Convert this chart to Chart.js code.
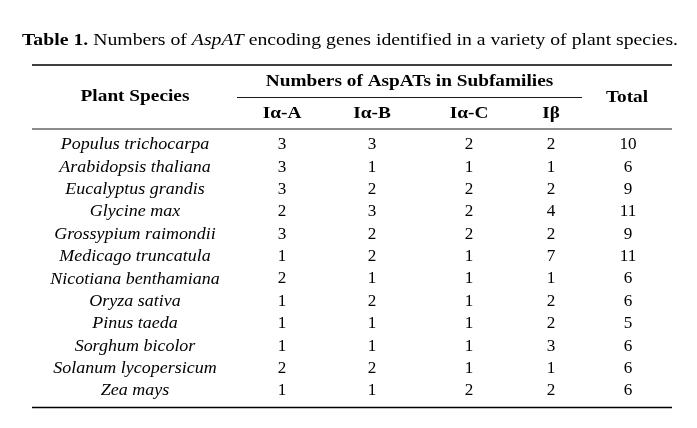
<!DOCTYPE html>
<html>
<head>
<meta charset="utf-8">
<script src="https://cdn.jsdelivr.net/npm/chart.js@4"></script>
<style>
  html, body { margin: 0; padding: 0; background: #ffffff; }
  #wrap { width: 697px; height: 428px; }
</style>
</head>
<body>
<div id="wrap"><canvas id="tableChart" width="697" height="428"></canvas></div>
<script>
// table content
var species = ["Populus trichocarpa", "Arabidopsis thaliana", "Eucalyptus grandis", "Glycine max",
    "Grossypium raimondii", "Medicago truncatula", "Nicotiana benthamiana", "Oryza sativa",
    "Pinus taeda", "Sorghum bicolor", "Solanum lycopersicum", "Zea mays"];
var subfamilies = ["Iα-A", "Iα-B", "Iα-C", "Iβ"];
var alphaA = [3, 3, 3, 2, 3, 1, 2, 1, 1, 1, 2, 1];
var alphaB = [3, 1, 2, 3, 2, 2, 1, 2, 1, 1, 2, 1];
var alphaC = [2, 1, 2, 2, 2, 1, 1, 1, 1, 1, 1, 2];
var beta = [2, 1, 2, 4, 2, 7, 1, 2, 2, 3, 1, 2];
var totals = [10, 6, 9, 11, 9, 11, 6, 6, 5, 6, 6, 6];

// layout (pixels of the 697x428 canvas, used as scale units)
var colX = [135, 282, 372, 469, 551, 628];
var firstRowY = 145, rowStep = 22.36;
var tableLeft = 32, tableRight = 672;
var serif = "'Liberation Serif', 'DejaVu Serif', serif";
var ink = "#000000";

function rowY(i) {
    return firstRowY + rowStep * i;
}

// one dataset per column, each point carries the text it shows
// (stretch widens the Times-like glyphs towards the book font of the original)
function columnDataset(values, col, font, stretch) {
    var pts = [];
    for (var i = 0; i < values.length; i++) {
        pts.push({ x: colX[col], y: rowY(i), text: String(values[i]) });
    }
    return { type: 'scatter', data: pts, pointRadius: 0, textFont: font, textStretch: stretch };
}

function rule(y, x1, x2, width) {
    return {
        type: 'line', data: [{ x: x1, y: y }, { x: x2, y: y }],
        borderColor: ink, borderWidth: width, pointRadius: 0, fill: false
    };
}

var headerPts = [
    { x: colX[0], y: 97, text: "Plant Species" },
    { x: 409.5, y: 81.5, text: "Numbers of AspATs in Subfamilies" },
    { x: colX[5] - 1, y: 98, text: "Total" }
];
for (var s = 0; s < subfamilies.length; s++) {
    headerPts.push({ x: colX[s + 1], y: 114, text: subfamilies[s] });
}

var datasets = [
    rule(65, tableLeft, tableRight, 1.4),
    rule(97.5, 237, 582, 0.9),
    rule(129, tableLeft, tableRight, 0.9),
    rule(407.5, tableLeft, tableRight, 1.4),
    { type: 'scatter', data: headerPts, pointRadius: 0, textFont: "bold 16.5px " + serif, textStretch: 1.17 },
    columnDataset(species, 0, "italic 16.5px " + serif, 1.09),
    columnDataset(alphaA, 1, "16.5px " + serif, 1.04),
    columnDataset(alphaB, 2, "16.5px " + serif, 1.04),
    columnDataset(alphaC, 3, "16.5px " + serif, 1.04),
    columnDataset(beta, 4, "16.5px " + serif, 1.04),
    columnDataset(totals, 5, "16.5px " + serif, 1.04)
];

// caption pieces with their own styles
var caption = [
    ["Table 1.", "bold 17px " + serif],
    [" Numbers of ", "17px " + serif],
    ["AspAT", "italic 17px " + serif],
    [" encoding genes identified in a variety of plant species.", "17px " + serif]
];
var captionWidth = 656;

var cellText = {
    id: 'cellText',
    afterDatasetsDraw: function (chart) {
        var ctx = chart.ctx;
        ctx.save();
        ctx.fillStyle = ink;
        ctx.textAlign = 'center';
        ctx.textBaseline = 'middle';
        chart.data.datasets.forEach(function (ds, di) {
            if (!ds.textFont) return;
            ctx.font = ds.textFont;
            chart.getDatasetMeta(di).data.forEach(function (el, i) {
                ctx.save();
                ctx.translate(el.x, el.y);
                ctx.scale(ds.textStretch || 1, 1);
                ctx.fillText(ds.data[i].text, 0, 0);
                ctx.restore();
            });
        });

        // caption line, centred across the page and stretched to the original width
        var total = 0;
        caption.forEach(function (p) { ctx.font = p[1]; total += ctx.measureText(p[0]).width; });
        var k = captionWidth / total;
        ctx.translate(chart.scales.x.getPixelForValue(350) - captionWidth / 2, chart.scales.y.getPixelForValue(41));
        ctx.scale(k, 1);
        ctx.textAlign = 'left';
        var x = 0;
        caption.forEach(function (p) {
            ctx.font = p[1];
            ctx.fillText(p[0], x, 0);
            x += ctx.measureText(p[0]).width;
        });
        ctx.restore();
    }
};

var tableChart = new Chart(document.getElementById("tableChart").getContext("2d"), {
    type: 'scatter',
    data: { datasets: datasets },
    options: {
        responsive: false,
        animation: false,
        layout: { padding: 0 },
        plugins: { legend: { display: false }, tooltip: { enabled: false } },
        scales: {
            x: { type: 'linear', min: 0, max: 697, display: false },
            y: { type: 'linear', min: 0, max: 428, reverse: true, display: false }
        }
    },
    plugins: [cellText]
});
</script>
</body>
</html>
